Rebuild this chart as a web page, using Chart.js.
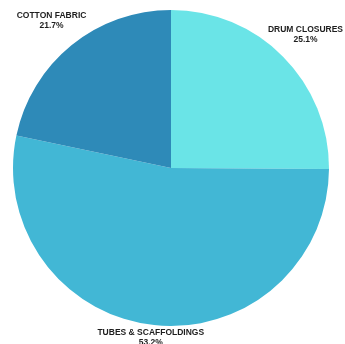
<!DOCTYPE html>
<html>
<head>
<meta charset="utf-8">
<script src="https://cdn.jsdelivr.net/npm/chart.js@4.4.1/dist/chart.umd.min.js"></script>
<style>
  html, body { margin: 0; padding: 0; background: #fff; }
  #wrap { width: 345px; height: 344px; position: relative; }
</style>
</head>
<body>
<div id="wrap"><canvas id="pieChart"></canvas></div>
<script>
const labels = ['DRUM CLOSURES', 'TUBES & SCAFFOLDINGS', 'COTTON FABRIC'];
const shares = [25.1, 53.2, 21.7];
const colors = ['#6ae4e7', '#42b7d5', '#2e8ab8'];

// draws the two-line label outside each slice
const outsideLabels = {
    id: 'outsideLabels',
    afterDatasetsDraw(chart) {
        const ctx = chart.ctx;
        const meta = chart.getDatasetMeta(0);
        ctx.save();
        ctx.fillStyle = '#1e1e1e';
        ctx.textAlign = 'center';
        ctx.textBaseline = 'middle';
        meta.data.forEach((arc, i) => {
            const mid = (arc.startAngle + arc.endAngle) / 2;
            const dist = arc.outerRadius * 1.2;
            const x = arc.x + Math.cos(mid) * dist;
            let y = arc.y + Math.sin(mid) * dist;
            y = Math.min(y, chart.height - 6);
            ctx.font = "bold 8.5px 'Liberation Sans', sans-serif";
            ctx.fillText(labels[i], x, y - 5);
            ctx.fillText(shares[i].toFixed(1) + '%', x, y + 5);
        });
        ctx.restore();
    }
};

const ctx = document.getElementById('pieChart').getContext('2d');
new Chart(ctx, {
    type: 'pie',
    data: {
        labels: labels,
        datasets: [{
            data: shares,
            backgroundColor: colors,
            borderWidth: 0
        }]
    },
    options: {
        responsive: true,
        maintainAspectRatio: false,
        animation: false,
        layout: { padding: { left: 13, right: 16, top: 10, bottom: 18 } },
        plugins: {
            legend: { display: false },
            tooltip: { enabled: false }
        }
    },
    plugins: [outsideLabels]
});
</script>
</body>
</html>
